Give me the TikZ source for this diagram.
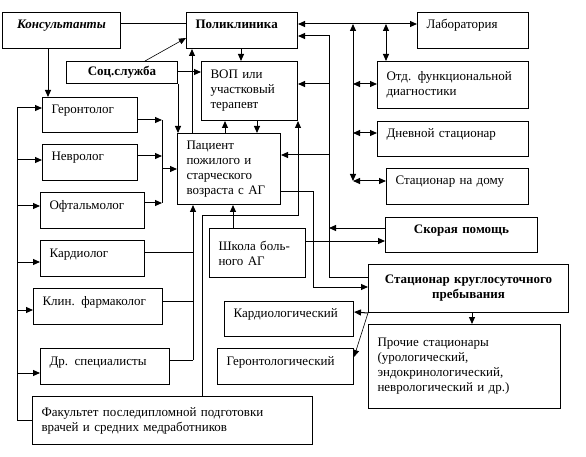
\documentclass[tikz,border=0pt]{standalone}
\usepackage{fontspec}
\setmainfont{Liberation Serif}
\usetikzlibrary{arrows.meta}

\newcommand{\boxfont}{\fontsize{13}{15}\selectfont}

\tikzset{
  box/.style={draw, anchor=north west, inner xsep=9pt, inner ysep=0pt, align=left, font=\boxfont},
  hitext/.style={text height=9pt, text depth=12pt},
  arr/.style={-{Triangle[length=7pt,width=6pt]}},
  darr/.style={{Triangle[length=7pt,width=6pt]}-{Triangle[length=7pt,width=6pt]}},
}

\begin{document}
\begin{tikzpicture}[x=1pt, y=-1pt, line width=1pt]
    \useasboundingbox (0,0) rectangle (586,457);
    % top row
    \node[box, hitext, text width=100pt, minimum height=36pt, align=center, font=\boxfont\bfseries\itshape] (kons) at (2,12) {Консультанты};
    \node[box, hitext, text width=93pt, minimum height=36pt, font=\boxfont\bfseries] (polik) at (186,12) {Поликлиника};
    \node[box, hitext, text width=93pt, minimum height=36pt] (lab) at (417,12) {Лаборатория};
    % right column
    \node[box, text width=133pt, minimum height=47pt] (otd) at (377,61) {Отд. функциональной\\диагностики};
    \node[box, hitext, text width=133pt, minimum height=35pt] (dnev) at (377,121) {Дневной стационар};
    \node[box, hitext, text width=124pt, minimum height=36pt] (dom) at (386,168) {Стационар на дому};
    \node[box, hitext, text width=134pt, minimum height=35pt, align=center, font=\boxfont\bfseries] (skor) at (385,217) {Скорая помощь};
    \node[box, inner xsep=4pt, text width=192pt, minimum height=48pt, align=center, font=\boxfont\bfseries] (kruglo) at (368,264) {Стационар круглосуточного\\пребывания};
    \node[box, text width=174pt, minimum height=84pt] (proch) at (368,324) {Прочие стационары\\(урологический,\\эндокринологический,\\неврологический и др.)};
    \node[box, hitext, text width=111pt, minimum height=35pt] (kardst) at (224,301) {Кардиологический};
    \node[box, hitext, text width=118pt, minimum height=36pt] (gerst) at (217,348) {Геронтологический};
    % middle
    \node[box, text width=85pt, minimum height=71pt] (pac) at (177,133) {Пациент\\пожилого и\\старческого\\возраста с АГ};
    \node[box, text width=78pt, minimum height=59pt] (vop) at (201,61) {ВОП или\\участковый\\терапевт};
    \node[box, text width=93pt, minimum height=22pt, align=center, font=\boxfont\bfseries] (soc) at (66,61) {Соц.служба};
    \node[box, text width=78pt, minimum height=49pt] (shkola) at (209,228) {Школа боль-\\ного АГ};
    % specialists
    \node[box, hitext, text width=77pt, minimum height=35pt] (geront) at (42,97) {Геронтолог};
    \node[box, hitext, text width=77pt, minimum height=36pt] (nevr) at (42,144) {Невролог};
    \node[box, hitext, text width=86pt, minimum height=36pt] (oft) at (40,192) {Офтальмолог};
    \node[box, hitext, text width=86pt, minimum height=36pt] (kard) at (40,240) {Кардиолог};
    \node[box, hitext, text width=111pt, minimum height=36pt] (klin) at (33,288) {Клин. фармаколог};
    \node[box, hitext, text width=111pt, minimum height=36pt] (dr) at (40,348) {Др. специалисты};
    \node[box, text width=262pt, minimum height=48pt] (fak) at (32,396) {Факультет последипломной подготовки\\врачей и средних медработников};

    % consultants and social service
    \draw (kons.east |- 0,24) -- (polik.west |- 0,24);
    \draw[arr] (kons.south -| 48,0) -- (geront.north -| 48,0);
    \draw[arr, line width=0.6pt] (soc.north -| 145,0) -- (polik.west |- 0,38);
    \draw[arr] (soc.east |- 0,72) -- (vop.west |- 0,72);
    \draw[arr] (soc.south east) -- (soc.south east |- pac.north);

    % polyclinic, GP and patient
    \draw[arr] (pac.north -| 192,0) -- (polik.south -| 192,0);
    \draw[arr] (polik.south -| 241,0) -- (vop.north -| 241,0);
    \draw[arr] (pac.north -| 225,0) -- (vop.south -| 225,0);
    \draw[arr] (vop.south -| 257,0) -- (pac.north -| 257,0);
    \draw[arr] (fak.north -| 202,0) |- (vop.south east |- 0,215) -- (vop.south east);

    % faculty to specialists
    \draw (fak.west |- 0,420) -| (17,108);
    \draw[arr] (17,108) -- (geront.west |- 0,108);
    \draw[arr] (17,160) -- (nevr.west |- 0,160);
    \draw[arr] (17,206) -- (oft.west |- 0,206);
    \draw[arr] (17,262) -- (kard.west |- 0,262);
    \draw[arr] (17,310) -- (klin.west |- 0,310);
    \draw[arr] (17,373) -- (dr.west |- 0,373);

    % specialists to patient
    \draw[arr] (geront.east |- 0,120) -- (162,120);
    \draw[arr] (nevr.east |- 0,156) -- (162,156);
    \draw[arr] (oft.east |- 0,203) -- (162,203);
    \draw (162,120) -- (162,203);
    \draw[arr] (162,169) -- (pac.west |- 0,169);
    \draw (kard.east |- 0,252) -- (193,252);
    \draw (klin.east |- 0,301) -- (193,301);
    \draw (dr.east |- 0,360) -- (193,360);
    \draw[arr] (193,360) -- (pac.south -| 193,0);
    \draw[arr] (shkola.north -| 233,0) -- (pac.south -| 233,0);

    % laboratory and outpatient services
    \draw[darr] (polik.east |- 0,24) -- (lab.west |- 0,24);
    \draw[darr] (386,24) -- (otd.north -| 386,0);
    \draw[darr] (353,24) -- (353,181);
    \draw[darr] (353,84) -- (otd.west |- 0,84);
    \draw[darr] (353,133) -- (dnev.west |- 0,133);
    \draw[darr] (353,181) -- (dom.west |- 0,181);

    % hospital and ambulance
    \draw[arr] (kruglo.west |- 0,277) -| (329,36) -- (polik.east |- 0,36);
    \draw[arr] (329,84) -- (vop.east |- 0,84);
    \draw[arr] (329,155) -- (pac.east |- 0,155);
    \draw[arr] (skor.west |- 0,228) -- (329,228);
    \draw[arr] (pac.east |- 0,192) -| (313,287) -- (kruglo.west |- 0,287);
    \draw[arr] (shkola.east |- 0,241) -- (skor.west |- 0,241);
    \draw[arr] (kruglo.south west) -- (kardst.east |- 0,312);
    \draw[arr, line width=0.6pt] (kruglo.south west) -- (gerst.east |- 0,357);
    \draw[arr] (kruglo.south -| 472,0) -- (proch.north -| 472,0);
\end{tikzpicture}
\end{document}
